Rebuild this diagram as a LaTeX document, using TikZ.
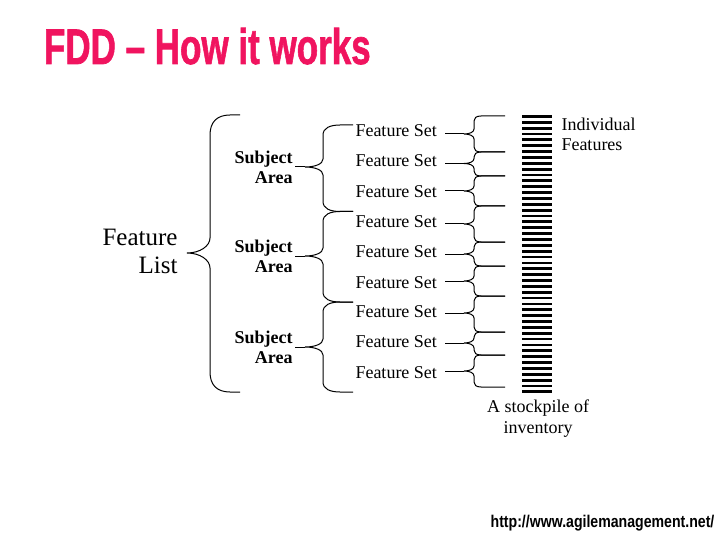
\documentclass[tikz,border=0pt]{standalone}
\usepackage{fontspec}
\setmainfont{Liberation Serif}
\newfontfamily\titlefont[FakeBold=1.5]{Liberation Sans Bold}
\newfontfamily\urlfont{Liberation Sans Bold}
\definecolor{titlemag}{RGB}{240,20,95}
\begin{document}
\begin{tikzpicture}[x=1pt,y=-1pt,line width=1pt,
  fsnode/.style={anchor=base west,inner xsep=8pt,inner ysep=0pt,font=\fontsize{18}{20}\selectfont},
  sanode/.style={anchor=east,align=right,inner xsep=2pt,inner ysep=0pt,font=\fontsize{18}{20}\selectfont\bfseries},
  plaintext/.style={inner sep=0pt,font=\fontsize{18}{20}\selectfont},
  brace/.style={draw=black,line width=1pt},
  stripe/.style={fill=black}]
\useasboundingbox (0,0) rectangle (720,540);

% title
\node[anchor=base west,inner sep=0pt,text=titlemag,font=\titlefont\fontsize{50}{50}\selectfont] (title) at (43.5,64) {\scalebox{0.7}[1]{FDD \textendash{} How it works}};

% feature list and big brace
\node[anchor=east,align=right,inner sep=0pt,font=\fontsize{25}{28}\selectfont] (flist) at (178,251) {Feature\\List};
\draw[brace] (240,115) -- (230,115) .. controls (217,115) and (210,122) .. (210,135) -- (210,238)
  .. controls (210,246) and (200,253) .. (187,253)
  .. controls (200,253) and (210,260) .. (210,268) -- (210,372)
  .. controls (210,385) and (217,392) .. (230,392) -- (240,392);

% subject areas and medium braces
\foreach \i/\yt/\yp/\yb in {1/125/167/211.5, 2/211.5/256/302, 3/302/347/392}{
  \coordinate (m\i) at (305,\yp);
  \draw[brace] (353,\yt) -- (340,\yt) .. controls (330,\yt) and (323,\yt+3) .. (323,\yt+10) -- (323,\yp-8)
    .. controls (323,\yp-3) and (315,\yp) .. (m\i)
    .. controls (315,\yp) and (323,\yp+3) .. (323,\yp+8) -- (323,\yb-10)
    .. controls (323,\yb-3) and (330,\yb) .. (340,\yb) -- (353,\yb);
  \node[sanode] (sa\i) at (295,\yp) {Subject\\Area};
  \draw (sa\i.east |- m\i) -- (m\i);
}

% small braces
\foreach \i/\yt/\yp/\yb in {1/116/134/152, 2/152/163.5/176, 3/176/191/206, 4/206/224/242, 5/242/254/266,
  6/266/281/296, 7/296/313/332, 8/332/343/355, 9/355/371/387}{
  \coordinate (t\i) at (464,\yp);
  \draw[brace] (505,\yt) -- (481,\yt) .. controls (476,\yt) and (474,\yt+2) .. (474,\yt+5) -- (474,\yp-5)
    .. controls (474,\yp-2) and (470,\yp) .. (t\i)
    .. controls (470,\yp) and (474,\yp+2) .. (474,\yp+5) -- (474,\yb-5)
    .. controls (474,\yb-2) and (476,\yb) .. (481,\yb) -- (505,\yb);
}

% feature sets
\foreach \i/\bl in {1/137, 2/167, 3/197, 4/228, 5/258, 6/288, 7/317, 8/347, 9/378}{
  \node[fsnode] (fs\i) at (347,\bl) {Feature Set};
  \draw (fs\i.east |- t\i) -- (t\i);
}

% stockpile bar
\foreach \k in {0,...,47}{
  \fill[stripe] (522,115+\k*5.86) rectangle (552,117.8+\k*5.86);
}

\node[plaintext,anchor=west,align=left] (indiv) at (561,134) {Individual\\Features};
\node[plaintext,align=center,font=\fontsize{18}{21}\selectfont] (stock) at (538,419) {A stockpile of\\inventory};
\node[anchor=base,inner sep=0pt,font=\urlfont\fontsize{17}{17}\selectfont] (url) at (602.5,527) {\scalebox{0.83}[1]{http://www.agilemanagement.net/}};
\end{tikzpicture}
\end{document}
